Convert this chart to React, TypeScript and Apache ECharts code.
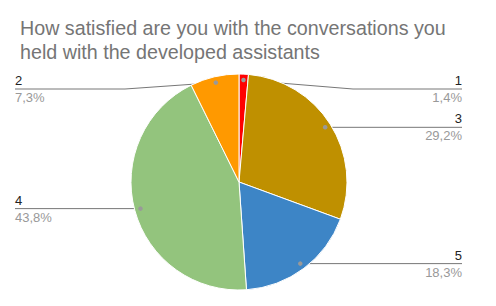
import React, { useEffect, useRef } from 'react';
import * as echarts from 'echarts';

const TITLE = 'How satisfied are you with the conversations you\nheld with the developed assistants';
const categories = ['1', '3', '5', '4', '2'];
const values = [1.4, 29.2, 18.3, 43.8, 7.3];
const colors = ['#ff0000', '#bf9000', '#3d85c6', '#93c47d', '#ff9900'];

const W = 496;
const H = 306;
const CX = 239;
const CY = 182;
const R = 108;
const DOT_FRAC = 0.945;
const LEFT_EDGE = 15;
const RIGHT_EDGE = 462;
const MIN_LABEL_Y = 89;
const BEND_GAP = 6;
const FONT = "'Liberation Sans', Arial, sans-serif";

export default function App() {
  const ref = useRef<HTMLDivElement>(null);
  useEffect(() => {
    document.body.style.margin = '0';
    const chart = echarts.init(ref.current!, null, { renderer: 'svg' });
    const total = values.reduce((a, b) => a + b, 0);
    const midPct: number[] = [];
    let acc = 0;
    values.forEach((v) => {
      midPct.push(((acc + v / 2) / total) * 100);
      acc += v;
    });
    const geo = midPct.map((p) => {
      const a = (p / 100) * 2 * Math.PI;
      const dx = Math.sin(a);
      const dy = -Math.cos(a);
      const px = CX + dx * R * DOT_FRAC;
      const py = CY + dy * R * DOT_FRAC;
      const right = dx >= 0;
      const ly = Math.max(py, MIN_LABEL_Y);
      const bx = right ? CX + R + BEND_GAP : CX - R - BEND_GAP;
      const ex = right ? RIGHT_EDGE : LEFT_EDGE;
      return { px, py, ly, bx, ex, right };
    });

    chart.setOption({
      animation: false,
      backgroundColor: '#ffffff',
      textStyle: { fontFamily: FONT },
      title: {
        text: TITLE,
        left: 15,
        top: 11,
        textStyle: {
          fontSize: 19.7,
          fontWeight: 'normal',
          color: '#757575',
          lineHeight: 24,
          fontFamily: FONT,
        },
      },
      polar: { center: [CX, CY], radius: R },
      angleAxis: {
        type: 'value',
        min: 0,
        max: 100,
        startAngle: 90,
        clockwise: true,
        show: false,
      },
      radiusAxis: { type: 'value', min: 0, max: 1, show: false },
      series: [
        {
          type: 'pie',
          center: [CX, CY],
          radius: R,
          startAngle: 90,
          clockwise: true,
          avoidLabelOverlap: false,
          itemStyle: { borderColor: '#ffffff', borderWidth: 1 },
          data: categories.map((c, i) => ({
            name: c,
            value: values[i],
            itemStyle: { color: colors[i] },
          })),
          label: {
            show: true,
            position: 'outside',
            formatter: (p: any) =>
              `{n|${p.name}}\n{p|${Number(p.value).toFixed(1).replace('.', ',')}%}`,
            rich: {
              n: { fontSize: 13, color: '#222222', lineHeight: 17, fontFamily: FONT },
              p: { fontSize: 13, color: '#999999', lineHeight: 17, fontFamily: FONT },
            },
          },
          labelLine: {
            show: true,
            smooth: false,
            lineStyle: { color: '#777777', width: 1 },
          },
          labelLayout: (params: any) => {
            const g = geo[params.dataIndex];
            return {
              x: g.ex,
              y: g.ly,
              align: g.right ? 'right' : 'left',
              verticalAlign: 'middle',
              labelLinePoints: [
                [g.px, g.py],
                [g.bx, g.ly],
                [g.ex, g.ly],
              ],
            };
          },
          emphasis: { disabled: true },
          z: 1,
        },
        {
          type: 'scatter',
          coordinateSystem: 'polar',
          symbol: 'circle',
          symbolSize: 4.5,
          itemStyle: { color: '#999999', opacity: 1 },
          data: midPct.map((p) => [DOT_FRAC, p]),
          silent: true,
          z: 5,
        },
      ],
    });
    return () => chart.dispose();
  }, []);
  return <div ref={ref} style={{ width: W, height: H }} />;
}
